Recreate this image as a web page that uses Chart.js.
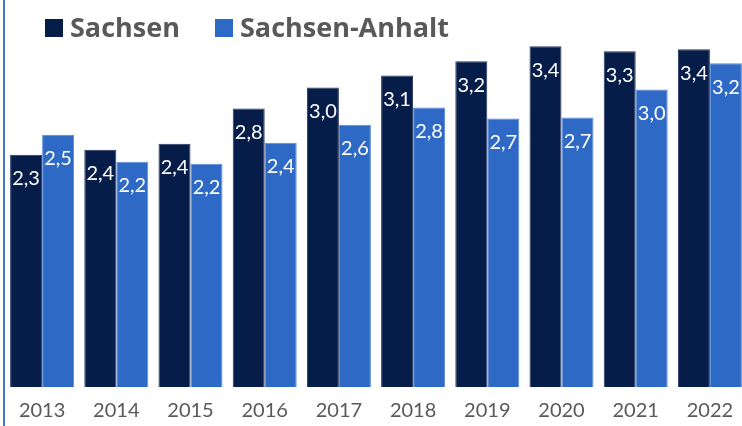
<!DOCTYPE html>
<html>
<head>
<meta charset="utf-8">
<script src="https://cdn.jsdelivr.net/npm/chart.js@4"></script>
<style>
  html, body { margin: 0; padding: 0; background: #fff; overflow: hidden; }
  #wrap { position: relative; width: 742px; height: 426px; overflow: hidden; }
  #edge { position: absolute; left: 3px; top: 0; width: 2px; height: 426px; background: #4472C4; }
  .legend-item { position: absolute; top: 13px; font-family: "Open Sans", sans-serif; font-weight: bold;
                 font-size: 27px; line-height: 27px; color: #595959; white-space: nowrap; }
  .legend-box { position: absolute; width: 18px; height: 18px; }
</style>
</head>
<body>
<div id="wrap">
  <canvas id="chart" width="747" height="426"></canvas>
  <div id="edge"></div>
  <div class="legend-box" style="left:45px;top:19px;background:#061D4A"></div>
  <div class="legend-item" style="left:70px">Sachsen</div>
  <div class="legend-box" style="left:215px;top:19px;background:#2E69C6"></div>
  <div class="legend-item" style="left:240px">Sachsen-Anhalt</div>
</div>
<script>
const years = ['2013', '2014', '2015', '2016', '2017', '2018', '2019', '2020', '2021', '2022'];
const sachsen = [2.31, 2.36, 2.42, 2.77, 2.98, 3.10, 3.24, 3.39, 3.34, 3.36];
const sachsenAnhalt = [2.51, 2.24, 2.22, 2.43, 2.61, 2.78, 2.67, 2.68, 2.96, 3.22];

// white value labels inside the top of each bar
const valueLabels = {
    id: 'valueLabels',
    afterDatasetsDraw(chart) {
        const ctx = chart.ctx;
        ctx.save();
        ctx.fillStyle = '#ffffff';
        ctx.font = '20px Lato, sans-serif';
        ctx.textAlign = 'center';
        ctx.textBaseline = 'middle';
        chart.data.datasets.forEach((ds, i) => {
            chart.getDatasetMeta(i).data.forEach((bar, j) => {
                const txt = ds.data[j].toFixed(1).replace('.', ',');
                ctx.fillText(txt, bar.x, bar.y + 24);
            });
        });
        ctx.restore();
    }
};

new Chart(document.getElementById('chart'), {
    type: 'bar',
    data: {
        labels: years,
        datasets: [{
            label: 'Sachsen',
            data: sachsen,
            backgroundColor: '#061D4A',
            borderColor: '#26375f',
            borderWidth: 1,
            categoryPercentage: 0.8625,
            barPercentage: 1.0
        }, {
            label: 'Sachsen-Anhalt',
            data: sachsenAnhalt,
            backgroundColor: '#2E69C6',
            borderColor: '#5a8ad6',
            borderWidth: 1,
            categoryPercentage: 0.8625,
            barPercentage: 1.0
        }]
    },
    options: {
        responsive: false,
        animation: false,
        layout: {
            padding: { left: 5, right: 0, top: 0, bottom: -9 }
        },
        plugins: {
            legend: { display: false },
            tooltip: { enabled: false }
        },
        scales: {
            y: {
                display: false,
                min: 0,
                max: 3.85
            },
            x: {
                grid: { display: false, drawTicks: false },
                border: { display: false },
                ticks: {
                    padding: 12,
                    color: '#595959',
                    font: { family: 'Lato', size: 20 }
                }
            }
        }
    },
    plugins: [valueLabels]
});
</script>
</body>
</html>
